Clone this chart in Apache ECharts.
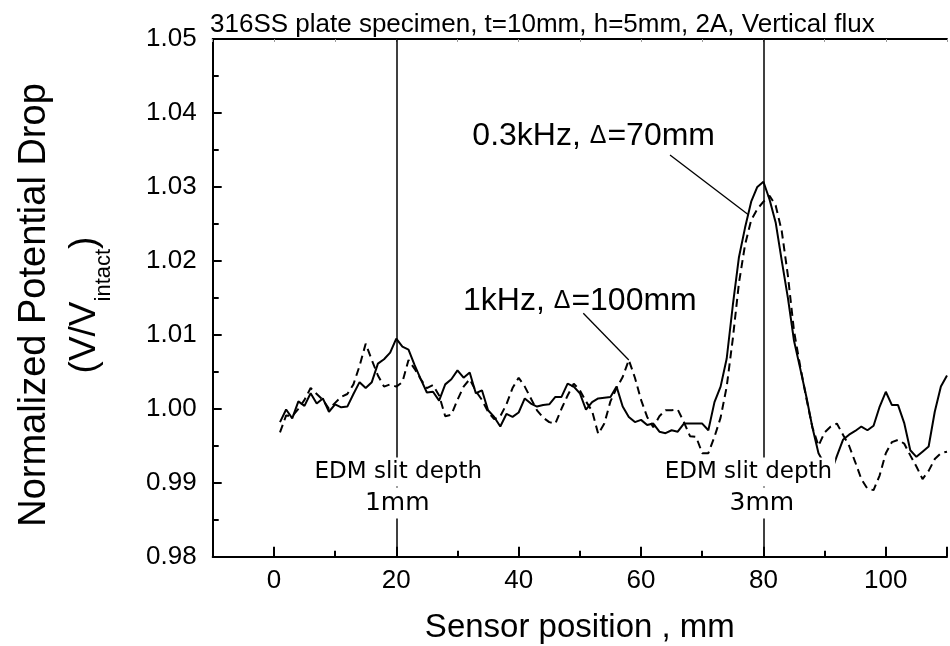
<!DOCTYPE html>
<html><head><meta charset="utf-8">
<script src="https://cdn.jsdelivr.net/npm/echarts@6/dist/echarts.min.js"></script>
<style>html,body{margin:0;padding:0;background:#fff}#c{width:950px;height:646px}</style>
</head><body><div id="c"></div>
<script>
// ---------------- data ----------------
const positions = [1,2,3,4,5,6,7,8,9,10,11,12,13,14,15,16,17,18,19,20,
  21,22,23,24,25,26,27,28,29,30,31,32,33,34,35,36,37,38,39,40,
  41,42,43,44,45,46,47,48,49,50,51,52,53,54,55,56,57,58,59,60,
  61,62,63,64,65,66,67,68,69,70,71,72,73,74,75,76,77,78,79,80,
  81,82,83,84,85,86,87,88,89,90,91,92,93,94,95,96,97,98,99,100,
  101,102,103,104,105,106,107,108,109,110];
// 0.3 kHz, delta = 70 mm (solid)
const pd_03kHz = [0.9982,0.9999,0.9987,1.0010,1.0004,1.0021,1.0007,1.0014,0.9996,1.0006,
  1.0002,1.0003,1.0020,1.0036,1.0028,1.0036,1.0061,1.0067,1.0076,1.0095,
  1.0084,1.0080,1.0059,1.0040,1.0022,1.0023,1.0011,1.0033,1.0040,1.0052,
  1.0042,1.0049,1.0021,1.0025,0.9998,0.9989,0.9976,0.9993,0.9989,0.9995,
  1.0014,1.0007,1.0003,1.0005,1.0006,1.0016,1.0016,1.0034,1.0030,1.0021,
  0.9999,1.0009,1.0014,1.0015,1.0016,1.0030,1.0003,0.9989,0.9982,0.9985,
  0.9978,0.9980,0.9969,0.9967,0.9971,0.9969,0.9980,0.9980,0.9980,0.9980,
  0.9971,1.0009,1.0030,1.0068,1.0140,1.0205,1.0245,1.0280,1.0300,1.0307,
  1.0283,1.0252,1.0200,1.0150,1.0092,1.0055,1.0017,0.9975,0.9940,0.9925,
  0.9913,0.9936,0.9958,0.9965,0.9970,0.9976,0.9971,0.9977,1.0003,1.0023,
  1.0005,1.0005,0.9981,0.9944,0.9935,0.9942,0.9949,0.9996,1.0030,1.0045];
// 1 kHz, delta = 100 mm (dashed)
const pd_1kHz = [0.9968,0.9991,0.9990,1.0000,1.0012,1.0028,1.0020,1.0012,1.0000,1.0008,
  1.0016,1.0020,1.0033,1.0058,1.0088,1.0066,1.0045,1.0030,1.0033,1.0030,
  1.0036,1.0066,1.0054,1.0040,1.0028,1.0032,1.0018,0.9990,0.9992,1.0012,
  1.0030,1.0040,1.0024,1.0012,0.9996,0.9986,0.9990,1.0006,1.0028,1.0042,
  1.0030,1.0014,0.9998,0.9988,0.9982,0.9980,1.0000,1.0018,1.0034,1.0025,
  1.0010,0.9997,0.9966,0.9980,1.0010,1.0028,1.0043,1.0066,1.0042,1.0012,
  0.9989,0.9975,0.9990,0.9998,0.9998,0.9999,0.9982,0.9963,0.9962,0.9940,
  0.9940,0.9962,0.9988,1.0030,1.0095,1.0170,1.0222,1.0255,1.0270,1.0280,
  1.0288,1.0275,1.0240,1.0180,1.0105,1.0058,1.0015,0.9975,0.9950,0.9968,
  0.9976,0.9980,0.9965,0.9950,0.9928,0.9905,0.9892,0.9890,0.9910,0.9940,
  0.9955,0.9958,0.9953,0.9937,0.9922,0.9905,0.9916,0.9932,0.9940,0.9942];
const xTickLabels = [0, 20, 40, 60, 80, 100];
const slitPositions = [20, 80];
const slitDepths = ['1mm', '3mm'];
const slitCaption = 'EDM slit depth';
const titleText = '316SS plate specimen, t=10mm, h=5mm, 2A, Vertical flux';
const xName = 'Sensor position , mm';
const yName1 = 'Normalized Potential Drop';
const seriesLabelParts = [['0.3kHz, ', '\u0394', '=70mm'], ['1kHz, ', '\u0394', '=100mm']];
const leaderTargets = [[77.6, 1.0262], [58, 1.0066]];

// ---------------- chart ----------------
const FONT = "'Liberation Sans', Arial, sans-serif";
const chart = echarts.init(document.getElementById('c'), null, {renderer: 'canvas'});
const toPairs = arr => positions.map((x, i) => [x, arr[i]]);

const xCommon = {type: 'value', min: -10, max: 110, gridIndex: 0, splitLine: {show: false}};
chart.setOption({
  animation: false,
  backgroundColor: '#fff',
  grid: {left: 212.7, top: 39, right: -4.3, bottom: 89.3, containLabel: false},
  xAxis: [
    Object.assign({}, xCommon, {
      position: 'bottom', interval: 10,
      axisLine: {onZero: false, lineStyle: {color: '#000', width: 2}},
      axisTick: {inside: true, length: 6, lineStyle: {color: '#000', width: 2}},
      axisLabel: {fontSize: 26, fontFamily: FONT, color: '#000', margin: 11,
        formatter: v => (xTickLabels.indexOf(v) >= 0 ? String(v) : '')}
    }),
    Object.assign({}, xCommon, {
      position: 'bottom', splitNumber: 6,
      axisLine: {show: false, onZero: false},
      axisTick: {inside: true, length: 10, lineStyle: {color: '#000', width: 2}},
      axisLabel: {show: false}
    }),
    Object.assign({}, xCommon, {
      position: 'top', interval: 10,
      axisLine: {onZero: false, lineStyle: {color: '#000', width: 2}},
      axisTick: {inside: true, length: 3, lineStyle: {color: '#999', width: 1}},
      axisLabel: {show: false}
    })
  ],
  yAxis: {
    type: 'value', min: 0.98, max: 1.05, interval: 0.01,
    axisLine: {onZero: false, lineStyle: {color: '#000', width: 2}},
    axisTick: {inside: true, length: 9, lineStyle: {color: '#000', width: 2}},
    minorTick: {show: true, splitNumber: 2, length: 6, lineStyle: {color: '#000', width: 2}},
    axisLabel: {fontSize: 26, fontFamily: FONT, color: '#000', margin: 16,
      formatter: v => v.toFixed(2)},
    splitLine: {show: false}
  },
  series: [
    {
      name: seriesLabelParts[0].join(''), type: 'line', xAxisIndex: 0, yAxisIndex: 0,
      data: toPairs(pd_03kHz), showSymbol: false, symbol: 'none',
      lineStyle: {color: '#000', width: 2, type: 'solid'},
      z: 3,
      markLine: {
        silent: true, symbol: ['none', 'none'], label: {show: false},
        lineStyle: {color: '#000', width: 1.5, type: 'solid'},
        data: slitPositions.map(v => ({xAxis: v}))
      }
    },
    {
      name: seriesLabelParts[1].join(''), type: 'line', xAxisIndex: 0, yAxisIndex: 0,
      data: toPairs(pd_1kHz), showSymbol: false, symbol: 'none',
      lineStyle: {color: '#000', width: 2, type: [8, 5]},
      z: 3
    }
  ]
});

const px = (x, y) => chart.convertToPixel({xAxisIndex: 0, yAxisIndex: 0}, [x, y]);
const g = [];
// title
g.push({type: 'text', x: 210, y: 24.4, z: 50,
  style: {text: titleText, font: '26px ' + FONT, fill: '#000', align: 'left', verticalAlign: 'middle'}});
// x axis name
g.push({type: 'text', x: px(50, 0.98)[0] , y: 627.7, z: 50,
  style: {text: xName, font: '33px ' + FONT, fill: '#000', align: 'center', verticalAlign: 'middle'}});
// y axis name
g.push({type: 'text', x: 35, y: 305, rotation: Math.PI / 2, z: 50,
  style: {text: yName1, font: '38px ' + FONT, fill: '#000', align: 'center', verticalAlign: 'middle'}});
g.push({type: 'text', x: 86, y: 305, rotation: Math.PI / 2, z: 50,
  style: {text: '{a|(V/V}{s|intact}{a|)}', fill: '#000', align: 'center', verticalAlign: 'middle',
    rich: {
      a: {fontSize: 37, fontFamily: FONT, lineHeight: 40, verticalAlign: 'top', fill: '#000'},
      s: {fontSize: 22, fontFamily: FONT, lineHeight: 22, padding: [27, 0, 0, 0], verticalAlign: 'top', fill: '#000'}
    }}});
// slit labels
const capOff = [2, -15];
const depOff = [1, -1.6];
slitPositions.forEach((v, i) => {
  const x0 = px(v, 0.98)[0];
  g.push({type: 'text', x: x0 + capOff[i], y: 472, z: 40,
    style: {text: slitCaption, font: '23px "DejaVu Sans"', fill: '#000', align: 'center', verticalAlign: 'middle',
      backgroundColor: '#fff', padding: [3, 3, 3, 3]}});
  g.push({type: 'text', x: x0 + depOff[i], y: 503, z: 40,
    style: {text: slitDepths[i], font: '25px "DejaVu Sans"', fill: '#000', align: 'center', verticalAlign: 'middle',
      backgroundColor: '#fff', padding: [3, 4, 3, 4]}});
});
// series labels + leaders
const richLbl = {
  a: {fontSize: 32, fontFamily: FONT, lineHeight: 32, verticalAlign: 'bottom', fill: '#000'},
  d: {fontSize: 25, fontFamily: FONT, lineHeight: 25, padding: [0, 1, 4, 0], verticalAlign: 'bottom', fill: '#000'}
};
const lblText = p => '{a|' + p[0] + '}{d|' + p[1] + '}{a|' + p[2] + '}';
g.push({type: 'text', x: 715, y: 136.4, z: 50,
  style: {text: lblText(seriesLabelParts[0]), rich: richLbl, fill: '#000', align: 'right', verticalAlign: 'middle'}});
g.push({type: 'text', x: 463, y: 301.4, z: 50,
  style: {text: lblText(seriesLabelParts[1]), rich: richLbl, fill: '#000', align: 'left', verticalAlign: 'middle'}});
const leaderStarts = [[670, 155], [583.3, 313.3]];
leaderTargets.forEach((t, i) => {
  const e = px(t[0], t[1]);
  g.push({type: 'line', z: 45, shape: {x1: leaderStarts[i][0], y1: leaderStarts[i][1], x2: e[0], y2: e[1]},
    style: {stroke: '#000', lineWidth: 1.3}});
});
chart.setOption({graphic: g});
</script>
</body></html>
